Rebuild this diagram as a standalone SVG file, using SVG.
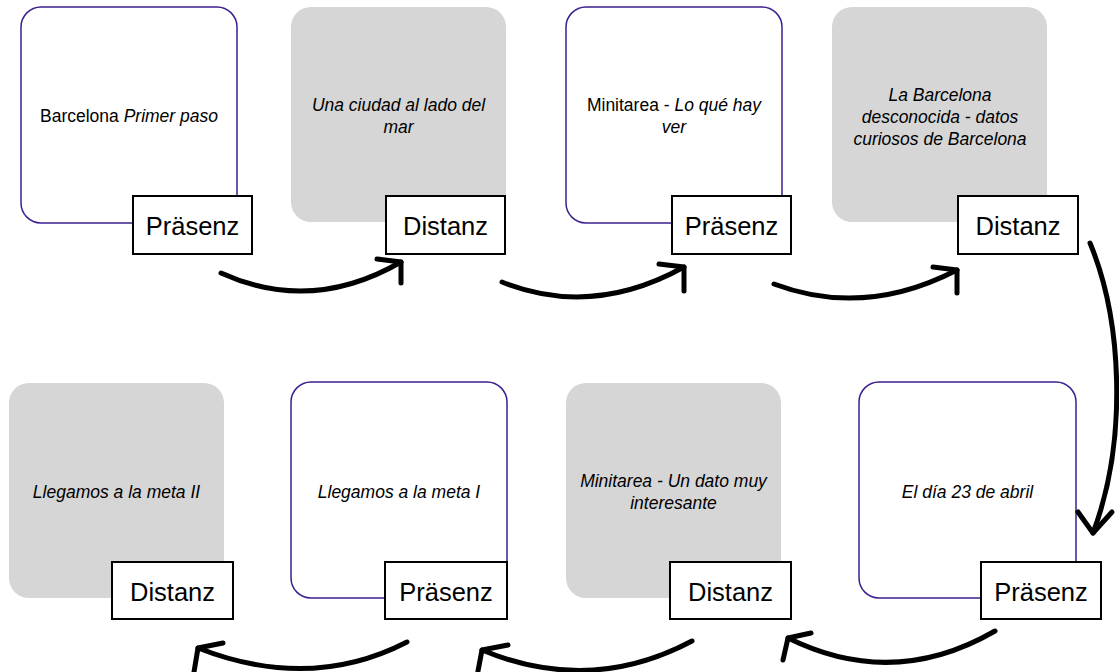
<svg xmlns="http://www.w3.org/2000/svg" width="1119" height="672" viewBox="0 0 1119 672">
<style>
.card{fill:#ffffff;stroke:#3d1f91;stroke-width:1.5}
.gray{fill:#d6d6d6;stroke:none}
.tag{fill:#ffffff;stroke:#000000;stroke-width:2}
.tagt{font-family:"Liberation Sans",Arial,sans-serif;font-size:25.5px;fill:#000;text-anchor:middle}
.body{font-family:"Liberation Sans",Arial,sans-serif;font-size:17.5px;fill:#000;text-anchor:middle}
.it{font-style:italic}
.arr{fill:none;stroke:#000;stroke-width:5;stroke-linecap:round;stroke-linejoin:round}
</style>
<rect width="1119" height="672" fill="#ffffff"/>
<g id="node1">
<rect class="card" x="21" y="7" width="216" height="216" rx="20"/>
<text class="body" x="129" y="122"><tspan>Barcelona </tspan><tspan class="it">Primer paso</tspan></text>
<rect class="tag" x="133" y="196" width="119" height="58"/>
<text class="tagt" x="192.5" y="235">Präsenz</text>
</g>
<g id="node2">
<rect class="gray" x="291" y="7" width="215" height="215" rx="20"/>
<text class="body it" x="398.5" y="111">Una ciudad al lado del</text>
<text class="body it" x="398.5" y="133">mar</text>
<rect class="tag" x="386" y="196" width="119" height="58"/>
<text class="tagt" x="445.5" y="235">Distanz</text>
</g>
<g id="node3">
<rect class="card" x="566" y="7" width="216" height="216" rx="20"/>
<text class="body" x="674" y="111"><tspan>Minitarea - </tspan><tspan class="it">Lo qué hay</tspan></text>
<text class="body it" x="674" y="133">ver</text>
<rect class="tag" x="672" y="196" width="119" height="58"/>
<text class="tagt" x="731.5" y="235">Präsenz</text>
</g>
<g id="node4">
<rect class="gray" x="832" y="7" width="215" height="215" rx="20"/>
<text class="body it" x="940" y="101">La Barcelona</text>
<text class="body it" x="940" y="123">desconocida - datos</text>
<text class="body it" x="940" y="145">curiosos de Barcelona</text>
<rect class="tag" x="958" y="196" width="120" height="58"/>
<text class="tagt" x="1018" y="235">Distanz</text>
</g>
<g id="node5">
<rect class="gray" x="9" y="383" width="215" height="215" rx="20"/>
<text class="body it" x="116.5" y="497.5">Llegamos a la meta II</text>
<rect class="tag" x="112" y="562" width="121" height="57"/>
<text class="tagt" x="172.5" y="601">Distanz</text>
</g>
<g id="node6">
<rect class="card" x="291" y="382" width="216" height="216" rx="20"/>
<text class="body it" x="399" y="497.5">Llegamos a la meta I</text>
<rect class="tag" x="385" y="562" width="122" height="57"/>
<text class="tagt" x="446" y="601">Präsenz</text>
</g>
<g id="node7">
<rect class="gray" x="566" y="383" width="215" height="215" rx="20"/>
<text class="body it" x="673.5" y="486.5">Minitarea - Un dato muy</text>
<text class="body it" x="673.5" y="508.5">interesante</text>
<rect class="tag" x="670" y="562" width="121" height="57"/>
<text class="tagt" x="730.5" y="601">Distanz</text>
</g>
<g id="node8">
<rect class="card" x="859" y="382" width="217" height="216" rx="20"/>
<text class="body it" x="967.5" y="497.5">El día 23 de abril</text>
<rect class="tag" x="981" y="562" width="120" height="57"/>
<text class="tagt" x="1041" y="601">Präsenz</text>
</g>
<g id="connectors">
<path class="arr" d="M221,273 Q311,314 401,262"/>
<path class="arr" d="M377,259 L401,262 L401,283"/>
<path class="arr" d="M502,282 Q592,318 684,267"/>
<path class="arr" d="M659,264 L684,267 L684,291"/>
<path class="arr" d="M774,284 Q864,318 957,270"/>
<path class="arr" d="M933,267 L957,270 L957,293"/>
<path class="arr" d="M1090,243 C1122,320 1128,440 1093,533"/>
<path class="arr" d="M1078,512 L1093,533 L1112,512"/>
<path class="arr" d="M995,631 Q893,690 788,638"/>
<path class="arr" d="M811,633 L788,638 L783,660"/>
<path class="arr" d="M692,641 Q590,695 482,650"/>
<path class="arr" d="M508,645 L482,650 L478,671"/>
<path class="arr" d="M407,642 Q310,692 198,648"/>
<path class="arr" d="M223,643 L198,648 L194,672"/>
</g>
</svg>
